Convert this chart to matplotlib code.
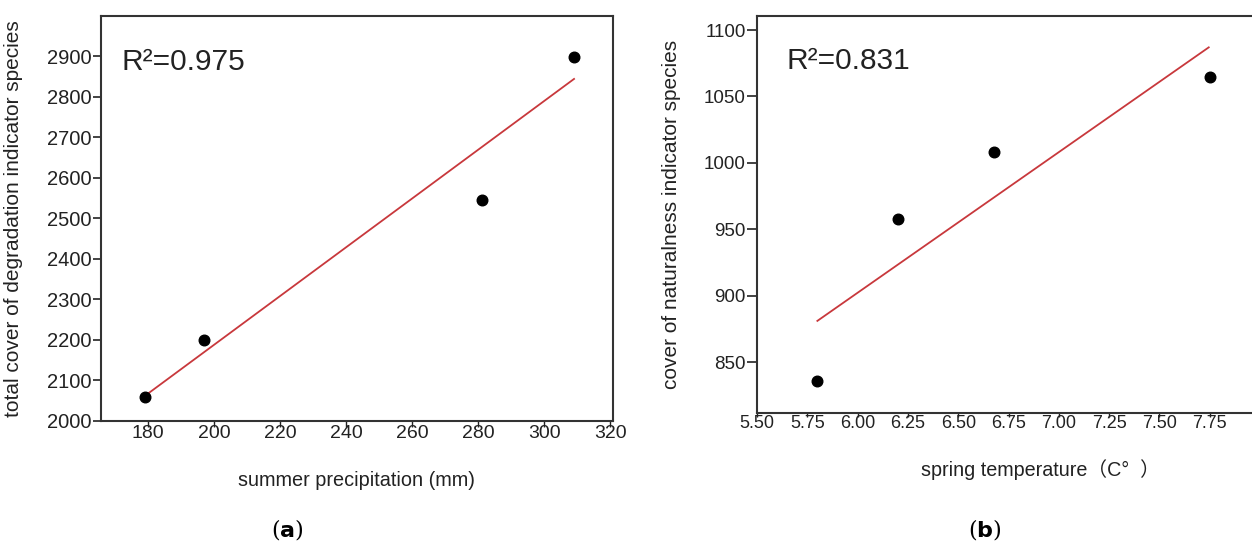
import matplotlib
matplotlib.use("Agg")
import matplotlib.pyplot as plt
import numpy as np

plt.rcParams['font.family'] = ['Liberation Sans', 'Noto Sans CJK SC', 'DejaVu Sans']

# ---- data panel (a) ----
precip = [179, 197, 281, 309]
cover_degr = [2058, 2200, 2545, 2899]
fit_a_x = [179, 309]
fit_a_y = [2062, 2844]
a_xticks = [180, 200, 220, 240, 260, 280, 300, 320]
a_yticks = [2000, 2100, 2200, 2300, 2400, 2500, 2600, 2700, 2800, 2900]
r2_a = "R²=0.975"

# ---- data panel (b) ----
temp = [5.80, 6.20, 6.68, 7.75]
cover_nat = [836, 958, 1008, 1065]
fit_b_x = [5.80, 7.745]
fit_b_y = [881, 1087]
b_xticks = [5.50, 5.75, 6.00, 6.25, 6.50, 6.75, 7.00, 7.25, 7.50, 7.75]
b_yticks = [850, 900, 950, 1000, 1050, 1100]
r2_b = "R²=0.831"

W, H = 1252, 549
fig = plt.figure(figsize=(W / 100, H / 100), dpi=100)

def px_axes(l, r, t, b):
    return fig.add_axes([l / W, (H - b) / H, (r - l) / W, (b - t) / H])

spine_col = '#333333'
txt_col = '#222222'
line_col = '#c8383c'

# Panel (a)
ax1 = px_axes(101, 613, 15.7, 421)
ax1.plot(fit_a_x, fit_a_y, color=line_col, lw=1.3, zorder=2)
ax1.scatter(precip, cover_degr, s=58, color='black', zorder=3)
ax1.set_xlim(165.7, 320.8)
ax1.set_ylim(2000, 3000)
ax1.set_xticks(a_xticks)
ax1.set_yticks(a_yticks)
ax1.set_xticklabels([str(v) for v in a_xticks])
ax1.set_yticklabels([str(v) for v in a_yticks])
ax1.tick_params(axis='y', length=6, width=1.2, pad=1, labelsize=14.5, colors=txt_col)
ax1.tick_params(axis='x', length=4, width=1.0, pad=-1, labelsize=14, colors=txt_col)
for s in ax1.spines.values():
    s.set_color(spine_col)
    s.set_linewidth(1.5)
ax1.set_ylabel("total cover of degradation indicator species", fontsize=15, color=txt_col)
ax1.yaxis.set_label_coords(-0.152, 0.5)
ax1.text(0.04, 0.885, r2_a, transform=ax1.transAxes, fontsize=21.5, color=txt_col,
         ha='left', va='center')
fig.text(357 / W, 1 - 481 / H, "summer precipitation (mm)", fontsize=14.3, color=txt_col,
         ha='center', va='center')
fig.text(287 / W, 1 - 530 / H, r"($\mathbf{a}$)", fontsize=16, color='black',
         ha='center', va='center', family='DejaVu Serif')

# Panel (b)
ax2 = px_axes(757, 1252, 15.5, 412.5)
ax2.plot(fit_b_x, fit_b_y, color=line_col, lw=1.3, zorder=2)
ax2.scatter(temp, cover_nat, s=58, color='black', zorder=3)
ax2.set_xlim(5.50, 7.96)
ax2.set_ylim(812, 1111)
ax2.set_xticks(b_xticks)
ax2.set_yticks(b_yticks)
ax2.set_xticklabels([f"{v:.2f}" for v in b_xticks])
ax2.set_yticklabels([str(v) for v in b_yticks])
ax2.tick_params(axis='y', length=7, width=1.2, pad=1, labelsize=13.5, colors=txt_col)
ax2.tick_params(axis='x', length=3, width=1.0, pad=-1, labelsize=13, colors=txt_col)
for s in ax2.spines.values():
    s.set_color(spine_col)
    s.set_linewidth(1.5)
ax2.spines['right'].set_visible(False)
ax2.set_ylabel("cover of naturalness indicator species", fontsize=15, color=txt_col)
ax2.yaxis.set_label_coords(-0.154, 0.5)
ax2.text(0.06, 0.885, r2_b, transform=ax2.transAxes, fontsize=21.5, color=txt_col,
         ha='left', va='center')
fig.text(1040 / W, 1 - 470 / H, "spring temperature（C°  ）", fontsize=14.2, color=txt_col,
         ha='center', va='center')
fig.text(985 / W, 1 - 530 / H, r"($\mathbf{b}$)", fontsize=16, color='black',
         ha='center', va='center', family='DejaVu Serif')

fig.savefig("out.png", dpi=100)
